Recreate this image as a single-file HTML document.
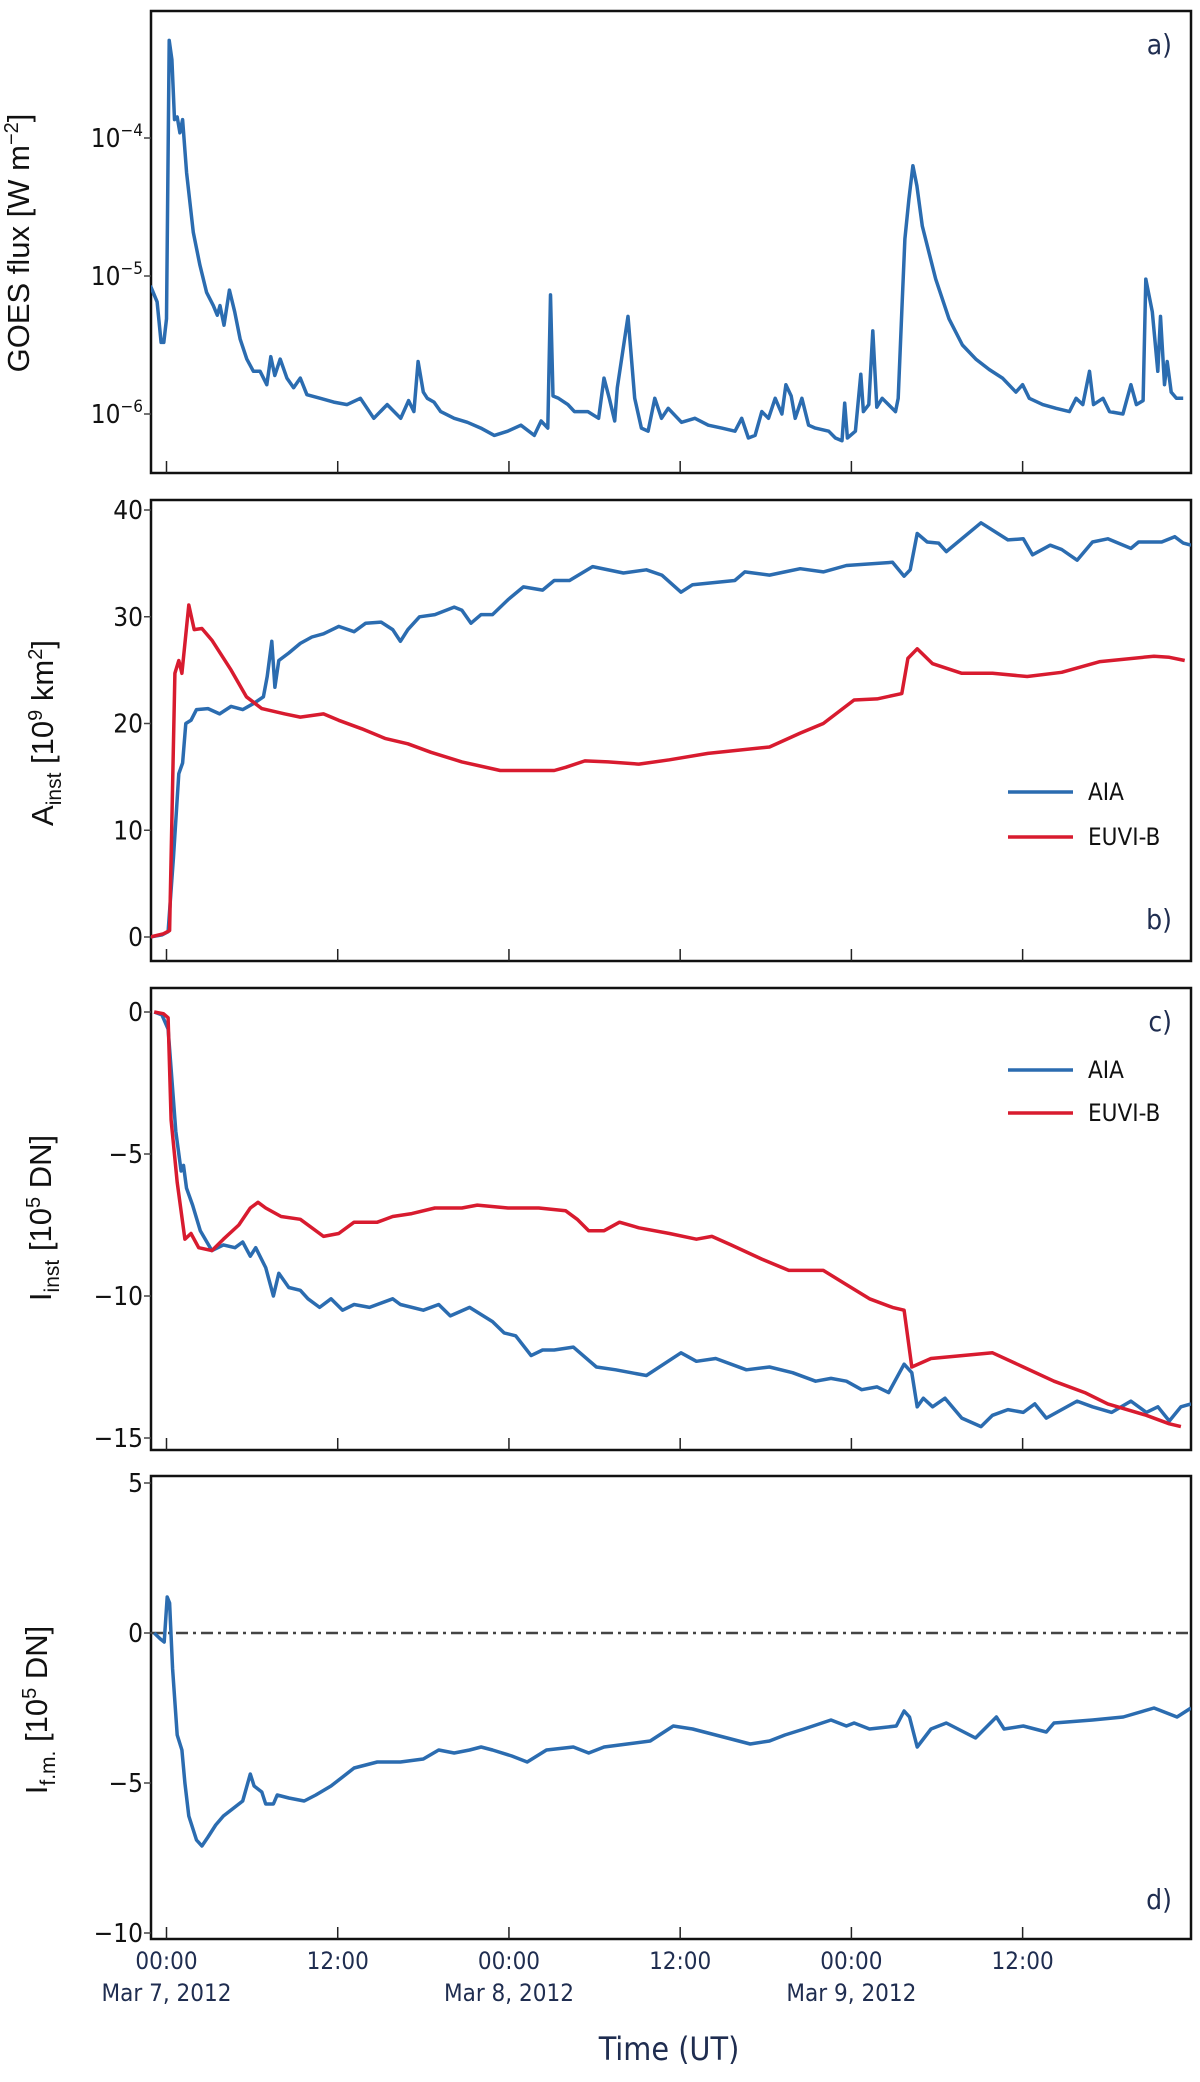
<!DOCTYPE html>
<html><head><meta charset="utf-8"><style>
html,body{margin:0;padding:0;background:#fff;}
svg{display:block;}
.tl{font-family:"Liberation Sans Narrow","DejaVu Sans Condensed","Liberation Sans",sans-serif;font-size:26px;fill:#111;}
.xl{font-family:"DejaVu Sans Condensed","Liberation Sans Narrow",sans-serif;font-size:24px;fill:#1f2d50;}
.ttl{font-family:"Liberation Sans",sans-serif;font-size:31px;fill:#111;}
.lab{font-family:"DejaVu Sans Condensed","Liberation Sans Narrow",sans-serif;font-size:28px;fill:#1f2d50;}
.lg{font-family:"Liberation Sans Narrow","DejaVu Sans Condensed",sans-serif;font-size:24px;fill:#111;}
</style></head><body>
<svg id="fig" width="1200" height="2082" viewBox="0 0 1200 2082" xmlns="http://www.w3.org/2000/svg">
<text class="xl" x="669" y="2060" text-anchor="middle" style="font-size:32px">Time (UT)</text>
</svg>
<script>
// time in hours since Mar 7 2012 00:00 UT
const goesT=[-1.13,-0.66,-0.38,-0.19,0,0.19,0.38,0.56,0.75,0.94,1.13,1.41,1.88,2.34,2.81,3.28,3.56,3.75,4.03,4.41,4.78,5.16,5.63,6.09,6.56,7.03,7.31,7.59,7.97,8.44,8.91,9.38,9.84,10.78,11.72,12.66,13.59,14.53,15.47,16.41,16.97,17.34,17.63,18.0,18.28,18.75,19.22,20.16,21.09,22.03,22.97,23.91,24.84,25.78,26.25,26.72,26.91,27.09,27.47,28.13,28.59,29.53,30.28,30.66,31.03,31.41,31.59,32.34,32.81,33.28,33.75,34.22,34.69,35.16,36.09,37.03,37.97,38.91,39.84,40.31,40.78,41.25,41.72,42.19,42.66,43.13,43.41,43.78,44.06,44.53,45.0,45.47,46.41,46.88,47.34,47.53,47.72,48.28,48.66,48.84,49.22,49.5,49.78,50.16,51.09,51.28,51.56,51.75,52.03,52.31,52.59,52.97,53.91,54.84,55.78,56.72,57.66,58.59,59.53,60.0,60.47,61.41,62.34,63.28,63.75,64.22,64.69,64.97,65.63,66.09,67.03,67.59,67.97,68.44,68.63,69.09,69.47,69.66,69.94,70.13,70.41,70.78,71.25];
const goesFlux=[8.5e-6,6.5e-6,3.3e-6,3.3e-6,4.9e-6,5.1e-4,3.7e-4,1.36e-4,1.42e-4,1.09e-4,1.36e-4,5.6e-5,2.07e-5,1.2e-5,7.6e-6,6.1e-6,5.2e-6,6.1e-6,4.4e-6,7.9e-6,5.5e-6,3.5e-6,2.5e-6,2.04e-6,2.04e-6,1.63e-6,2.6e-6,1.9e-6,2.5e-6,1.82e-6,1.55e-6,1.82e-6,1.38e-6,1.3e-6,1.22e-6,1.17e-6,1.3e-6,9.3e-7,1.17e-6,9.3e-7,1.25e-6,1.04e-6,2.4e-6,1.44e-6,1.3e-6,1.22e-6,1.04e-6,9.3e-7,8.7e-7,7.9e-7,7.0e-7,7.5e-7,8.3e-7,7.0e-7,8.9e-7,7.9e-7,7.3e-6,1.35e-6,1.3e-6,1.17e-6,1.04e-6,1.04e-6,9.3e-7,1.82e-6,1.3e-6,8.9e-7,1.55e-6,5.1e-6,1.3e-6,7.9e-7,7.5e-7,1.3e-6,9.3e-7,1.1e-6,8.7e-7,9.3e-7,8.3e-7,7.9e-7,7.5e-7,9.3e-7,6.7e-7,7.0e-7,1.04e-6,9.3e-7,1.3e-6,1.0e-6,1.63e-6,1.35e-6,9.3e-7,1.3e-6,8.3e-7,7.9e-7,7.5e-7,6.7e-7,6.4e-7,1.2e-6,6.7e-7,7.5e-7,1.94e-6,1.04e-6,1.17e-6,4.0e-6,1.12e-6,1.3e-6,1.04e-6,1.3e-6,6.5e-6,1.86e-5,3.6e-5,6.3e-5,4.5e-5,2.3e-5,9.5e-6,4.9e-6,3.16e-6,2.5e-6,2.1e-6,1.82e-6,1.44e-6,1.63e-6,1.3e-6,1.17e-6,1.1e-6,1.04e-6,1.3e-6,1.17e-6,2.04e-6,1.17e-6,1.3e-6,1.04e-6,1.0e-6,1.63e-6,1.17e-6,1.25e-6,9.5e-6,5.5e-6,2.04e-6,5.1e-6,1.63e-6,2.4e-6,1.44e-6,1.3e-6,1.3e-6];
const goesTickLabels=["-4","-5","-6"];

const aiaAT=[-1.13,-0.32,0.11,0.49,0.86,1.13,1.35,1.72,2.1,2.91,3.72,4.53,5.34,6.14,6.79,7.06,7.38,7.6,7.87,8.57,9.38,10.19,11.0,12.07,13.15,13.96,15.04,15.85,16.39,16.92,17.73,18.81,20.16,20.7,21.34,22.05,22.85,23.93,25.01,26.36,27.17,28.24,29.86,32.02,33.63,34.71,36.06,36.87,39.83,40.53,42.26,43.34,44.41,46.03,47.65,50.88,51.69,52.12,52.61,53.31,54.11,54.65,57.08,58.97,60.05,60.69,61.93,62.74,63.82,64.9,65.97,67.59,68.13,69.75,70.66,71.26,71.8];
const aiaA=[0,0.2,0.5,7.5,15.3,16.3,20,20.3,21.3,21.4,20.9,21.6,21.3,21.9,22.5,24.4,27.7,23.4,25.9,26.6,27.5,28.1,28.4,29.1,28.6,29.4,29.5,28.8,27.7,28.8,30,30.2,30.9,30.6,29.4,30.2,30.2,31.6,32.8,32.5,33.4,33.4,34.7,34.1,34.4,33.9,32.3,33.0,33.4,34.2,33.9,34.2,34.5,34.2,34.8,35.1,33.8,34.4,37.8,37.0,36.9,36.1,38.8,37.2,37.3,35.8,36.7,36.3,35.3,37.0,37.3,36.4,37.0,37.0,37.5,36.9,36.7];
const euviAT=[-1.13,-0.22,0.22,0.59,0.86,1.08,1.56,1.94,2.48,3.18,4.53,5.6,6.68,8.3,9.38,11.0,12.07,13.69,15.31,16.92,18.54,20.7,23.39,27.17,27.98,29.32,30.94,33.1,35.25,37.95,42.26,44.41,46.03,48.19,49.8,51.53,51.96,52.61,53.69,55.74,57.89,60.32,62.74,65.43,69.21,70.28,71.36];
const euviA=[0,0.3,0.6,24.7,25.9,24.7,31.1,28.8,28.9,27.8,25.0,22.5,21.4,20.9,20.6,20.9,20.3,19.5,18.6,18.1,17.3,16.4,15.6,15.6,15.9,16.5,16.4,16.2,16.6,17.2,17.8,19.1,20.0,22.2,22.3,22.8,26.1,27.0,25.6,24.7,24.7,24.4,24.8,25.8,26.3,26.2,25.9];

const aiaIT=[-0.86,-0.32,0.11,0.65,1.02,1.19,1.4,1.83,2.37,3.18,3.99,4.8,5.34,5.87,6.25,6.95,7.49,7.87,8.57,9.38,9.92,10.73,11.53,12.34,13.15,14.23,15.85,16.39,18.0,19.08,19.89,21.24,22.85,23.66,24.47,25.55,26.36,27.17,28.51,30.13,31.48,32.56,33.63,36.06,37.14,38.49,40.64,42.26,43.88,45.49,46.57,47.65,48.72,49.8,50.61,51.69,52.23,52.61,53.04,53.69,54.56,55.74,57.08,57.89,58.97,60.05,60.85,61.66,63.82,64.9,66.24,67.59,68.67,69.48,70.28,71.09,71.8];
const aiaI=[0,-0.1,-0.6,-4.2,-5.6,-5.4,-6.2,-6.8,-7.7,-8.4,-8.2,-8.3,-8.1,-8.6,-8.3,-9.0,-10.0,-9.2,-9.7,-9.8,-10.1,-10.4,-10.1,-10.5,-10.3,-10.4,-10.1,-10.3,-10.5,-10.3,-10.7,-10.4,-10.9,-11.3,-11.4,-12.1,-11.9,-11.9,-11.8,-12.5,-12.6,-12.7,-12.8,-12.0,-12.3,-12.2,-12.6,-12.5,-12.7,-13.0,-12.9,-13.0,-13.3,-13.2,-13.4,-12.4,-12.7,-13.9,-13.6,-13.9,-13.6,-14.3,-14.6,-14.2,-14.0,-14.1,-13.8,-14.3,-13.7,-13.9,-14.1,-13.7,-14.1,-13.9,-14.4,-13.9,-13.8];
const euviIT=[-0.86,-0.22,0.11,0.32,0.75,1.29,1.72,2.26,3.18,3.99,5.07,5.87,6.41,6.95,8.03,9.38,11.0,12.07,13.15,14.77,15.85,17.19,18.81,20.7,21.78,23.93,26.09,27.98,28.78,29.59,30.67,31.75,33.1,35.25,37.14,38.22,39.56,41.72,43.61,46.03,47.65,49.27,50.88,51.69,52.23,53.58,55.74,57.89,60.05,62.2,64.36,65.97,68.67,70.28,71.09];
const euviI=[0,-0.06,-0.2,-3.8,-6.0,-8.0,-7.8,-8.3,-8.4,-8.0,-7.5,-6.9,-6.7,-6.9,-7.2,-7.3,-7.9,-7.8,-7.4,-7.4,-7.2,-7.1,-6.9,-6.9,-6.8,-6.9,-6.9,-7.0,-7.3,-7.7,-7.7,-7.4,-7.6,-7.8,-8.0,-7.9,-8.2,-8.7,-9.1,-9.1,-9.6,-10.1,-10.4,-10.5,-12.5,-12.2,-12.1,-12.0,-12.5,-13.0,-13.4,-13.8,-14.2,-14.5,-14.6];

const fmT=[-0.86,-0.43,-0.16,0.05,0.22,0.43,0.75,1.08,1.29,1.56,2.1,2.48,2.91,3.45,3.99,4.8,5.34,5.87,6.14,6.68,6.95,7.49,7.76,8.57,9.65,10.46,11.53,12.34,13.15,13.96,14.77,16.39,18.0,19.08,20.16,21.24,22.05,22.85,24.2,25.28,26.63,28.51,29.59,30.67,32.29,33.9,35.52,36.87,38.49,40.91,42.26,43.34,44.68,46.57,47.65,48.19,49.27,51.15,51.69,52.07,52.61,53.58,54.65,56.7,58.16,58.7,60.05,61.66,62.2,64.9,67.05,69.21,70.82,71.8];
const fmI=[0,-0.2,-0.3,1.2,1.0,-1.2,-3.4,-3.9,-5.0,-6.1,-6.9,-7.1,-6.8,-6.4,-6.1,-5.8,-5.6,-4.7,-5.1,-5.3,-5.7,-5.7,-5.4,-5.5,-5.6,-5.4,-5.1,-4.8,-4.5,-4.4,-4.3,-4.3,-4.2,-3.9,-4.0,-3.9,-3.8,-3.9,-4.1,-4.3,-3.9,-3.8,-4.0,-3.8,-3.7,-3.6,-3.1,-3.2,-3.4,-3.7,-3.6,-3.4,-3.2,-2.9,-3.1,-3.0,-3.2,-3.1,-2.6,-2.8,-3.8,-3.2,-3.0,-3.5,-2.8,-3.2,-3.1,-3.3,-3.0,-2.9,-2.8,-2.5,-2.8,-2.5];

const xTickHours=[0,12,24,36,48,60];
const xTickTimes=["00:00","12:00","00:00","12:00","00:00","12:00"];
const xTickDates=["Mar 7, 2012","","Mar 8, 2012","","Mar 9, 2012",""];
const bTicks=[0,10,20,30,40];
const cTicks=[0,-5,-10,-15];
const dTicks=[5,0,-5,-10];

const NS="http://www.w3.org/2000/svg";
const svg=document.getElementById('fig');
const BLUE="#2b6cb0", RED="#d81b2f";
const L=151,R=1191;
function xs(t){return 166.5+t*(R-166.5)/71.8;}
function mk(tag,attrs,parent){const e=document.createElementNS(NS,tag);for(const k in attrs)e.setAttribute(k,attrs[k]);(parent||svg).appendChild(e);return e;}

function panel(name,top,bot,ys,ticks,tickText,letter,letterY){
  const g=mk('g',{});
  
  
  const cp=mk('clipPath',{id:'cp-'+name},g);
  mk('rect',{x:L,y:top,width:R-L,height:bot-top},cp);
  const frame=mk('rect',{x:L,y:top,width:R-L,height:bot-top,fill:'none',stroke:'#111','stroke-width':2.5},g);
  
  
  xTickHours.forEach(h=>{const tk=mk('line',{x1:xs(h),x2:xs(h),y1:bot,y2:bot-12,stroke:'#222','stroke-width':1.5},g);
    
    });
  ticks.forEach((v,i)=>{const y=ys(v);
    mk('line',{x1:L-7,x2:L,y1:y,y2:y,stroke:'#444','stroke-width':1.5},g);
    const tx=mk('text',{x:L-8,y:y+9,'text-anchor':'end',class:'tl'},g);
    
    
    if(tickText){tx.textContent='10';const s=mk('tspan',{dy:-11,'font-size':17},tx);s.textContent=tickText[i];}
    else tx.textContent=(v<0?'\u2212':'')+Math.abs(v);});
  const lt=mk('text',{x:1172,y:letterY,'text-anchor':'end',class:'lab'},g);
  
  
  lt.textContent=letter;
  return g;
}
function line(g,name,T,V,ys,color){
  let d='';T.forEach((t,i)=>{d+=(i?'L':'M')+xs(t).toFixed(1)+','+ys(V[i]).toFixed(1);});
  const p=mk('path',{d:d,fill:'none',stroke:color,'stroke-width':3.5,'stroke-linejoin':'round','clip-path':'url(#cp-'+name.split('|')[0]+')'},g);
  
  
}
function ytitle(x,y,parts,name){
  const t=mk('text',{class:'ttl',transform:`translate(${x},${y}) rotate(-90)`,'text-anchor':'middle'});
  
  
  parts.forEach(p=>{const s=mk('tspan',p.a||{},t);s.textContent=p.s;});
}
function legend(g,y1,y2){
  [[y1,BLUE,'AIA'],[y2,RED,'EUVI-B']].forEach(([y,c,s])=>{
    const e=mk('g',{},g);
    
    
    mk('line',{x1:1008,x2:1073,y1:y,y2:y,stroke:c,'stroke-width':3.5},e);
    const t=mk('text',{x:1088,y:y+8,class:'lg'},e);t.textContent=s;});
}

// Panel a
const yA=v=>138+(-4-Math.log10(v))*138;
const ga=panel('panel-a',11,473,yA,[1e-4,1e-5,1e-6],goesTickLabels.map(s=>s.replace('-','\u2212')),'a)',54);
line(ga,'panel-a|goes-flux-line',goesT,goesFlux,yA,BLUE);
ytitle(29,243,[{s:'GOES flux [W m'},{s:'\u22122',a:{dy:-11,'font-size':20}},{s:']',a:{dy:11}}],'y-axis-title-goes');

// Panel b
const yB=v=>937-v*(937-510)/40;
const gb=panel('panel-b',500,961,yB,bTicks,null,'b)',929);
line(gb,'panel-b|aia-area-line',aiaAT,aiaA,yB,BLUE);
line(gb,'panel-b|euvi-area-line',euviAT,euviA,yB,RED);
legend(gb,792,837);
ytitle(53,733,[{s:'A'},{s:'inst',a:{dy:8,'font-size':21}},{s:' [10',a:{dy:-8}},{s:'9',a:{dy:-11,'font-size':20}},{s:' km',a:{dy:11}},{s:'2',a:{dy:-11,'font-size':20}},{s:']',a:{dy:11}}],'y-axis-title-area');

// Panel c
const yC=v=>1012-v*(1012-1438)/(-15);
const gc=panel('panel-c',988,1450,yC,cTicks,null,'c)',1031);
line(gc,'panel-c|aia-intensity-line',aiaIT,aiaI,yC,BLUE);
line(gc,'panel-c|euvi-intensity-line',euviIT,euviI,yC,RED);
legend(gc,1070,1113);
ytitle(51,1218,[{s:'I'},{s:'inst',a:{dy:8,'font-size':21}},{s:' [10',a:{dy:-8}},{s:'5',a:{dy:-11,'font-size':20}},{s:' DN]',a:{dy:11}}],'y-axis-title-intensity');

// Panel d
const yD=v=>1633-v*30;
const gd=panel('panel-d',1476,1939,yD,dTicks,null,'d)',1909);
const zl=mk('line',{x1:L,x2:R,y1:yD(0),y2:yD(0),stroke:'#444','stroke-width':2.5,'stroke-dasharray':'12,5,3,5'},gd);


line(gd,'panel-d|fm-intensity-line',fmT,fmI,yD,BLUE);
ytitle(47,1710,[{s:'I'},{s:'f.m.',a:{dy:8,'font-size':21}},{s:' [10',a:{dy:-8}},{s:'5',a:{dy:-11,'font-size':20}},{s:' DN]',a:{dy:11}}],'y-axis-title-fm');

// x tick labels
xTickHours.forEach((h,i)=>{
  const t=mk('text',{x:xs(h),y:1969,'text-anchor':'middle',class:'xl'});
  
  
  t.textContent=xTickTimes[i];
  if(xTickDates[i]){const d=mk('text',{x:xs(h),y:2001,'text-anchor':'middle',class:'xl'});
    
    
    d.textContent=xTickDates[i];}
});
</script>
</body></html>
